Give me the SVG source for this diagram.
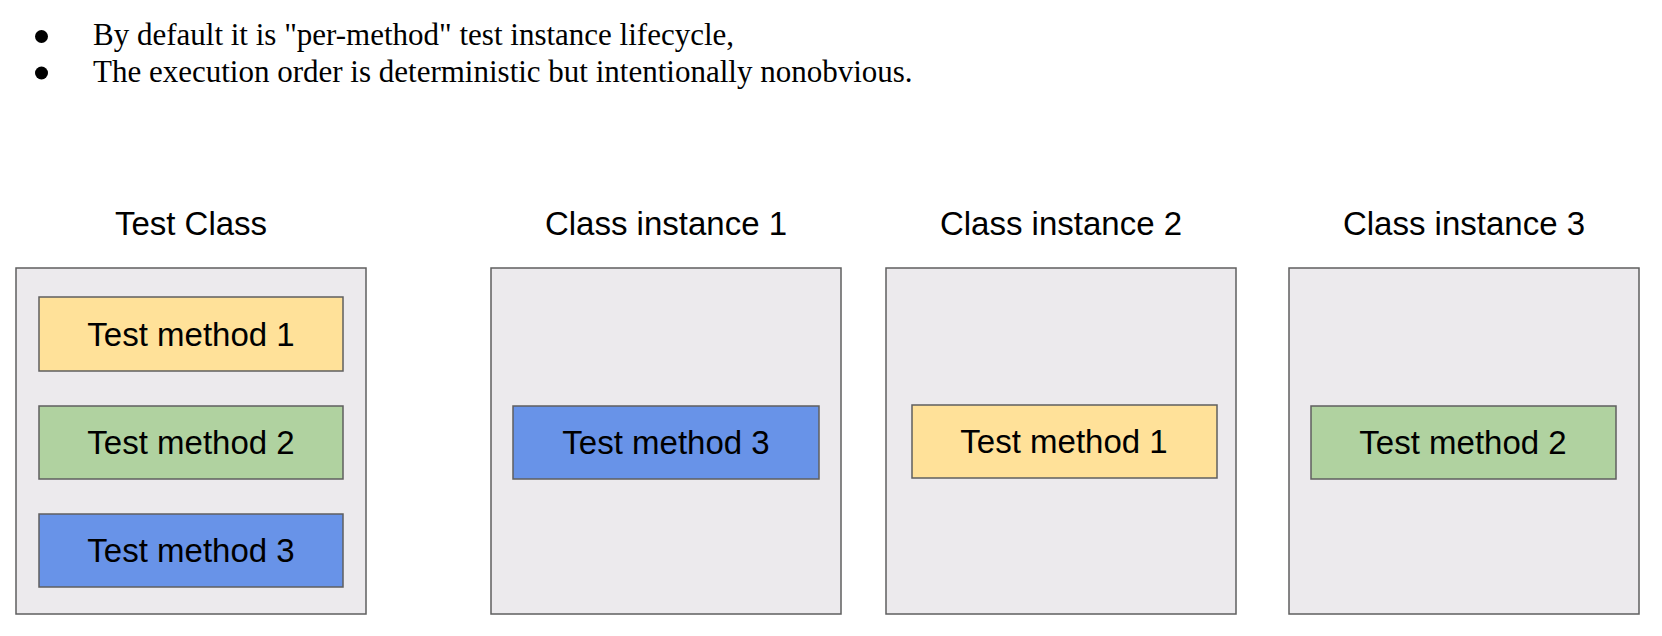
<svg xmlns="http://www.w3.org/2000/svg" width="1662" height="636" viewBox="0 0 1662 636">
<style>
.bul{font-family:"Liberation Serif","Times New Roman",serif;font-size:31px;fill:#000}
.ttl{font-family:"Liberation Sans",Arial,sans-serif;font-size:33px;fill:#000;text-anchor:middle}
.lbl{font-family:"Liberation Sans",Arial,sans-serif;font-size:33px;fill:#000;text-anchor:middle}
.outer{fill:#ECEAED;stroke:#5f5f5f;stroke-width:1.5}
.m{stroke:#5f5f5f;stroke-width:1.5}
.y{fill:#FFE199}
.g{fill:#B0D2A0}
.b{fill:#6893E8}
</style>
<rect width="1662" height="636" fill="#ffffff"/>
<g id="bullets">
<circle cx="41.5" cy="36.5" r="6.5" fill="#000"/>
<text class="bul" x="93" y="45">By default it is "per-method" test instance lifecycle,</text>
<circle cx="41.5" cy="73" r="6.5" fill="#000"/>
<text class="bul" x="93" y="82">The execution order is deterministic but intentionally nonobvious.</text>
</g>
<g id="connectors"></g>
<g id="test-class">
<text class="ttl" x="191" y="235">Test Class</text>
<rect class="outer" x="16" y="268" width="350" height="346"/>
<g id="tc-method1"><rect class="m y" x="39" y="297" width="304" height="74"/><text class="lbl" x="191" y="346">Test method 1</text></g>
<g id="tc-method2"><rect class="m g" x="39" y="406" width="304" height="73"/><text class="lbl" x="191" y="454">Test method 2</text></g>
<g id="tc-method3"><rect class="m b" x="39" y="514" width="304" height="73"/><text class="lbl" x="191" y="562">Test method 3</text></g>
</g>
<g id="instance1">
<text class="ttl" x="666" y="235">Class instance 1</text>
<rect class="outer" x="491" y="268" width="350" height="346"/>
<g id="i1-method3"><rect class="m b" x="513" y="406" width="306" height="73"/><text class="lbl" x="666" y="454">Test method 3</text></g>
</g>
<g id="instance2">
<text class="ttl" x="1061" y="235">Class instance 2</text>
<rect class="outer" x="886" y="268" width="350" height="346"/>
<g id="i2-method1"><rect class="m y" x="912" y="405" width="305" height="73"/><text class="lbl" x="1064" y="453">Test method 1</text></g>
</g>
<g id="instance3">
<text class="ttl" x="1464" y="235">Class instance 3</text>
<rect class="outer" x="1289" y="268" width="350" height="346"/>
<g id="i3-method2"><rect class="m g" x="1311" y="406" width="305" height="73"/><text class="lbl" x="1463" y="454">Test method 2</text></g>
</g>
</svg>
